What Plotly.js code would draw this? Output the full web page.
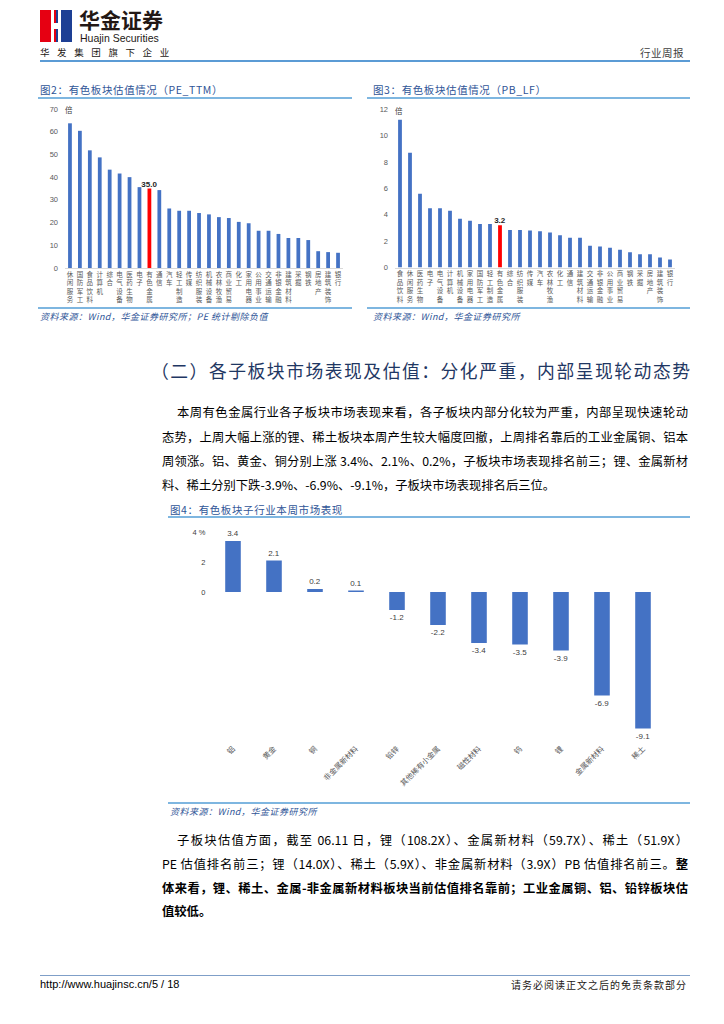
<!DOCTYPE html>
<html>
<head>
<meta charset="utf-8">
<script src="https://cdn.plot.ly/plotly-3.0.1.min.js"></script>
<style>
  html, body { margin:0; padding:0; background:#fff; }
  #page { position:relative; width:724px; height:1024px; overflow:hidden; font-family:"Noto Sans CJK SC","Noto Sans",sans-serif; }
  #plot { position:absolute; left:0; top:0; width:724px; height:1024px; }
  .t { position:absolute; white-space:nowrap; }
  .hl { position:absolute; }
  .ln { position:absolute; height:24px; line-height:24px; font-size:12.3px; color:#000; text-align:justify; text-align-last:justify; overflow:visible; }
  .ttl { color:#2F5597; font-size:10.5px; letter-spacing:0.6px; }
  .src { color:#2F5597; font-size:9px; font-style:italic; letter-spacing:0.5px; }
</style>
</head>
<body>
<div id="page">
  <div id="plot"></div>

  <!-- header -->
  <div class="hl" style="left:40px;top:10px;width:16px;height:32px;background:#E60012;"></div>
  <div class="hl" style="left:56px;top:10px;width:16px;height:32px;background:#1D3F94;"></div>
  <div class="hl" style="left:51px;top:10px;width:3px;height:32px;background:#fff;"></div>
  <div class="hl" style="left:58px;top:10px;width:3px;height:32px;background:#fff;"></div>
  <div class="hl" style="left:51px;top:23px;width:10px;height:6px;background:#fff;"></div>
  <div class="t" style="left:79px;top:8px;font-size:21px;line-height:22px;font-weight:bold;color:#231815;">华金证券</div>
  <div class="t" style="left:80px;top:32px;font-size:10.5px;line-height:12px;color:#231815;font-family:'Liberation Sans',Arial,sans-serif;">Huajin Securities</div>
  <div class="t" style="left:40px;top:45px;font-size:9.5px;color:#231815;letter-spacing:7.6px;">华发集团旗下企业</div>
  <div class="t" style="left:640px;top:45px;font-size:10.5px;color:#404040;letter-spacing:0.5px;">行业周报</div>
  <div class="hl" style="left:40px;top:60px;width:650px;height:2px;background:#5B9BD5;"></div>

  <!-- figure 2 / 3 titles -->
  <div class="t ttl" style="left:40px;top:82px;">图2：有色板块估值情况（PE_TTM）</div>
  <div class="hl" style="left:38px;top:97px;width:314px;height:1.5px;background:#7EB6E0;"></div>
  <div class="t ttl" style="left:373px;top:82px;">图3：有色板块估值情况（PB_LF）</div>
  <div class="hl" style="left:367px;top:97px;width:323px;height:1.5px;background:#7EB6E0;"></div>

  <div class="hl" style="left:38px;top:307px;width:314px;height:1.5px;background:#7EB6E0;"></div>
  <div class="t src" style="left:40px;top:310px;">资料来源：Wind，华金证券研究所；PE 统计剔除负值</div>
  <div class="hl" style="left:367px;top:307px;width:323px;height:1.5px;background:#7EB6E0;"></div>
  <div class="t src" style="left:373px;top:310px;">资料来源：Wind，华金证券研究所</div>

  <!-- section heading -->
  <div class="ln" style="left:151px;top:356px;width:539px;font-size:17.8px;color:#1F3763;height:28px;line-height:28px;">（二）各子板块市场表现及估值：分化严重，内部呈现轮动态势</div>

  <!-- paragraph 1 -->
  <div class="ln" style="left:177px;top:400px;width:511px;">本周有色金属行业各子板块市场表现来看，各子板块内部分化较为严重，内部呈现快速轮动</div>
  <div class="ln" style="left:162px;top:425px;width:526px;">态势，上周大幅上涨的锂、稀土板块本周产生较大幅度回撤，上周排名靠后的工业金属铜、铝本</div>
  <div class="ln" style="left:162px;top:449px;width:526px;">周领涨。铝、黄金、铜分别上涨 3.4%、2.1%、0.2%，子板块市场表现排名前三；锂、金属新材</div>
  <div class="ln" style="left:162px;top:473px;text-align-last:left;">料、稀土分别下跌-3.9%、-6.9%、-9.1%，子板块市场表现排名后三位。</div>

  <!-- figure 4 title -->
  <div class="t ttl" style="left:170px;top:502px;">图4：有色板块子行业本周市场表现</div>
  <div class="hl" style="left:168px;top:516px;width:522px;height:1.5px;background:#7EB6E0;"></div>
  <div class="hl" style="left:168px;top:802px;width:522px;height:1.5px;background:#7EB6E0;"></div>
  <div class="t src" style="left:170px;top:805px;">资料来源：Wind，华金证券研究所</div>

  <!-- paragraph 2 -->
  <div class="ln" style="left:177px;top:828px;width:511px;">子板块估值方面，截至 06.11 日，锂（108.2X）、金属新材料（59.7X）、稀土（51.9X）</div>
  <div class="ln" style="left:162px;top:852px;width:526px;">PE 估值排名前三；锂（14.0X）、稀土（5.9X）、非金属新材料（3.9X）PB 估值排名前三。<b>整</b></div>
  <div class="ln" style="left:162px;top:876px;width:526px;font-weight:bold;">体来看，锂、稀土、金属-非金属新材料板块当前估值排名靠前；工业金属铜、铝、铅锌板块估</div>
  <div class="ln" style="left:162px;top:899px;font-weight:bold;text-align-last:left;">值较低。</div>

  <!-- footer -->
  <div class="hl" style="left:40px;top:975px;width:650px;height:1px;background:#7F9FC8;"></div>
  <div class="t" style="left:40px;top:978px;font-size:11px;color:#000;font-family:'Liberation Sans',Arial,sans-serif;">http://www.huajinsc.cn/5 / 18</div>
  <div class="t" style="left:511px;top:977px;font-size:10px;color:#231815;letter-spacing:1px;">请务必阅读正文之后的免责条款部分</div>
</div>

<script>
// ---------- data ----------
const highlightName = '有色金属';

const peCategories = ['休闲服务','国防军工','食品饮料','计算机','综合','电气设备','医药生物','电子','有色金属','通信',
  '汽车','轻工制造','传媒','纺织服装','机械设备','农林牧渔','商业贸易','化工','家用电器','公用事业',
  '交通运输','非银金融','建筑材料','采掘','钢铁','房地产','建筑装饰','银行'];
const peValues = [63.7, 60.4, 51.8, 48.7, 43.3, 41.6, 40.0, 35.6, 35.0, 34.3,
  26.2, 25.2, 25.2, 24.2, 23.6, 22.4, 22.0, 20.3, 19.7, 16.4,
  16.4, 15.0, 13.2, 13.2, 12.3, 7.4, 7.0, 6.7];
const peTicks = [0, 10, 20, 30, 40, 50, 60, 70];

const pbCategories = ['食品饮料','休闲服务','医药生物','电子','电气设备','计算机','机械设备','家用电器','国防军工','轻工制造',
  '有色金属','综合','纺织服装','传媒','汽车','农林牧渔','化工','通信','建筑材料','交通运输',
  '非银金融','公用事业','商业贸易','钢铁','采掘','房地产','建筑装饰','银行'];
const pbValues = [11.2, 8.7, 5.6, 4.5, 4.5, 4.3, 3.7, 3.55, 3.3, 3.3,
  3.2, 2.85, 2.85, 2.8, 2.75, 2.65, 2.45, 2.25, 2.25, 1.65,
  1.6, 1.5, 1.35, 1.15, 1.0, 1.0, 0.75, 0.6];
const pbTicks = [0, 2, 4, 6, 8, 10, 12];

const subCategories = ['铝','黄金','铜','非金属新材料','铅锌','其他稀有小金属','磁性材料','钨','锂','金属新材料','稀土'];
const subChanges = [3.4, 2.1, 0.2, 0.1, -1.2, -2.2, -3.4, -3.5, -3.9, -6.9, -9.1];
const subPosTicks = [0, 2, 4];
const subPosText = ['0', '2', '4 %'];
const subNegTicks = [-10, -8, -6, -4, -2];
const subNegText = ['(10)', '(8)', '(6)', '(4)', '(2)'];

// ---------- helpers (page pixel -> paper fraction) ----------
const W = 724, H = 1024;
const px = v => v / W;
const py = v => 1 - v / H;

const BLUE = '#4472C4', RED = '#FF0000';
const tickFont = {family: 'Liberation Sans, Arial, sans-serif', size: 7.5, color: '#595959'};
const catFont = {family: 'Noto Sans CJK SC, sans-serif', size: 6.5, color: '#595959'};
const stack = s => s.split('').join('<br>');

const traces = [
  {
    type: 'bar', x: peCategories, y: peValues, xaxis: 'x', yaxis: 'y',
    marker: {color: peCategories.map(c => c === highlightName ? RED : BLUE)},
    text: peCategories.map((c, i) => c === highlightName ? '<b>' + peValues[i].toFixed(1) + '</b>' : ''),
    textposition: 'outside', constraintext: 'none', cliponaxis: false,
    textfont: {family: 'Liberation Sans, Arial, sans-serif', size: 8, color: '#262626'},
    hoverinfo: 'skip'
  },
  {
    type: 'bar', x: pbCategories, y: pbValues, xaxis: 'x2', yaxis: 'y2',
    marker: {color: pbCategories.map(c => c === highlightName ? RED : BLUE)},
    text: pbCategories.map((c, i) => c === highlightName ? '<b>' + pbValues[i].toFixed(1) + '</b>' : ''),
    textposition: 'outside', constraintext: 'none', cliponaxis: false,
    textfont: {family: 'Liberation Sans, Arial, sans-serif', size: 8, color: '#262626'},
    hoverinfo: 'skip'
  },
  {
    type: 'bar', x: subCategories, y: subChanges, xaxis: 'x3', yaxis: 'y3',
    marker: {color: BLUE},
    texttemplate: '%{y:.1f}', textposition: 'outside', constraintext: 'none', cliponaxis: false,
    textfont: {family: 'Liberation Sans, Arial, sans-serif', size: 8, color: '#404040'},
    hoverinfo: 'skip'
  }
];

const layout = {
  width: W, height: H,
  margin: {l: 0, r: 0, t: 0, b: 0},
  paper_bgcolor: 'rgba(0,0,0,0)', plot_bgcolor: 'rgba(0,0,0,0)',
  showlegend: false,
  bargap: 0.62,
  xaxis: {
    domain: [px(65), px(343)], anchor: 'y', type: 'category',
    tickvals: peCategories, ticktext: peCategories.map(stack), tickangle: 0,
    tickfont: catFont, ticks: '', showline: true, linecolor: '#D9D9D9', linewidth: 1,
    showgrid: false, zeroline: false, fixedrange: true
  },
  yaxis: {
    domain: [py(268), py(109)], anchor: 'x', range: [0, 70],
    tickvals: peTicks, tickfont: tickFont, showgrid: false, zeroline: false,
    showline: false, ticks: '', ticklabelstandoff: 6, fixedrange: true
  },
  xaxis2: {
    domain: [px(395), px(675)], anchor: 'y2', type: 'category',
    tickvals: pbCategories, ticktext: pbCategories.map(stack), tickangle: 0,
    tickfont: catFont, ticks: '', showline: true, linecolor: '#D9D9D9', linewidth: 1,
    showgrid: false, zeroline: false, fixedrange: true
  },
  yaxis2: {
    domain: [py(267.5), py(109.3)], anchor: 'x2', range: [0, 12],
    tickvals: pbTicks, tickfont: tickFont, showgrid: false, zeroline: false,
    showline: false, ticks: '', ticklabelstandoff: 6, fixedrange: true
  },
  xaxis3: {
    domain: [px(212.5), px(663.5)], anchor: 'y3', type: 'category',
    tickangle: -45, tickfont: {family: 'Noto Sans CJK SC, sans-serif', size: 7.5, color: '#595959'},
    ticks: '', showline: false, showgrid: false, zeroline: false, fixedrange: true
  },
  yaxis3: {
    domain: [py(742), py(532)], anchor: 'x3', range: [-10, 4],
    tickvals: subPosTicks, ticktext: subPosText,
    tickfont: {family: 'Liberation Sans, Arial, sans-serif', size: 7.5, color: '#404040'},
    showgrid: false, zeroline: false, showline: false, ticks: '', ticklabelstandoff: 6, fixedrange: true
  },
  yaxis4: {
    overlaying: 'y3', anchor: 'x3', side: 'left', range: [-10, 4],
    tickvals: subNegTicks, ticktext: subNegText,
    tickfont: {family: 'Liberation Sans, Arial, sans-serif', size: 7.5, color: RED},
    showgrid: false, zeroline: false, showline: false, ticks: '', ticklabelstandoff: 6, fixedrange: true
  },
  annotations: [
    {xref: 'paper', yref: 'paper', x: px(63), y: py(109), text: '倍', showarrow: false,
     xanchor: 'left', yanchor: 'middle', font: {family: 'Noto Sans CJK SC', size: 7.5, color: '#404040'}},
    {xref: 'paper', yref: 'paper', x: px(393), y: py(110), text: '倍', showarrow: false,
     xanchor: 'left', yanchor: 'middle', font: {family: 'Noto Sans CJK SC', size: 7.5, color: '#404040'}}
  ]
};

Plotly.newPlot('plot', traces, layout, {displayModeBar: false, staticPlot: true});
</script>
</body>
</html>
